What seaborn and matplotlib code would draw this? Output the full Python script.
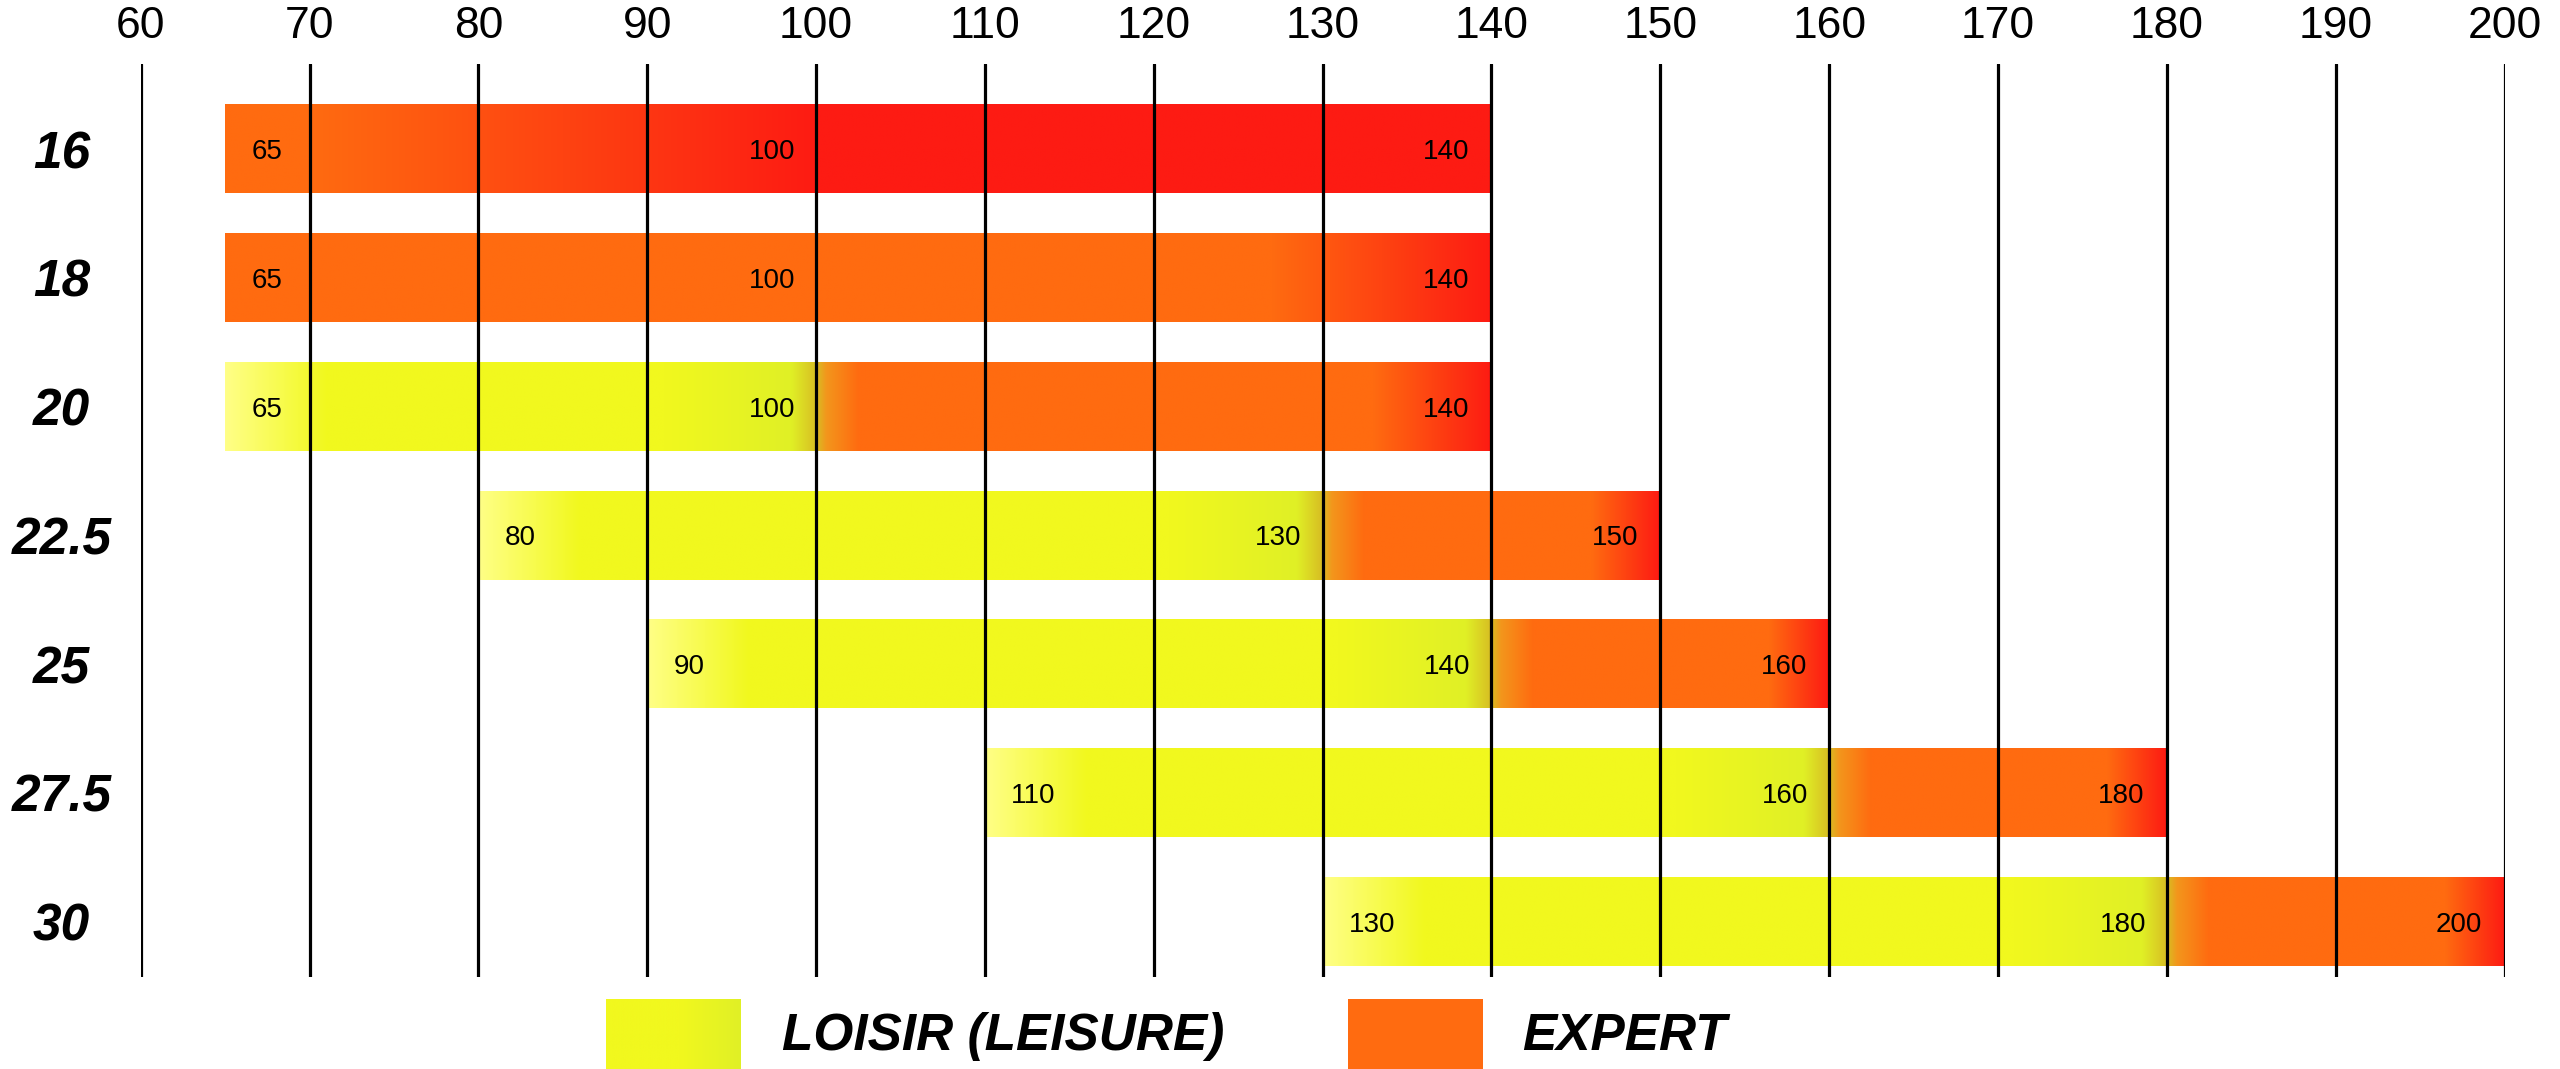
import numpy as np
import pandas as pd
import matplotlib
matplotlib.use("Agg")
import matplotlib.pyplot as plt
import seaborn as sns

# Chart values
sizes = ["16", "18", "20", "22.5", "25", "27.5", "30"]
start_vals = [65, 65, 65, 80, 90, 110, 130]
mid_vals = [100, 100, 100, 130, 140, 160, 180]
end_vals = [140, 140, 140, 150, 160, 180, 200]
leisure_to = [65, 65, 100, 130, 140, 160, 180]   # where leisure turns to expert
red_from = [70, 127, 133, 146, 156.5, 176.5, 196.5]
red_full = [100, 140, 140, 150, 160, 180, 200]
x_ticks = list(range(60, 201, 10))
legend_labels = ["LOISIR (LEISURE)", "EXPERT"]

# Colours
PALE = (255, 255, 135)
YELLOW = (241, 248, 30)
GREENISH = (224, 240, 38)
TAN = (215, 190, 35)
LORANGE = (243, 150, 28)
ORANGE = (255, 107, 16)
RED = (253, 27, 19)

df = pd.DataFrame({"size": sizes, "start": start_vals, "mid": mid_vals,
                   "end": end_vals, "leisure_to": leisure_to,
                   "red_from": red_from, "red_full": red_full})
df["length"] = df["end"] - df["start"]


def ramp(xs, stops):
    px = [p for p, _ in stops]
    out = np.zeros((len(xs), 3))
    for c in range(3):
        out[:, c] = np.interp(xs, px, [col[c] for _, col in stops])
    return out / 255.0


def bar_stops(row):
    stops = []
    if row.leisure_to > row.start:
        m = row.leisure_to
        stops += [(row.start, PALE), (row.start + 6, YELLOW), (m - 9, YELLOW),
                  (m - 1.5, GREENISH), (m, TAN), (m + 0.6, LORANGE), (m + 2.5, ORANGE)]
    else:
        stops += [(row.start, ORANGE)]
    stops += [(row.red_from, ORANGE), (row.red_full, RED)]
    if row.red_full < row.end:
        stops += [(row.end, RED)]
    return stops


sns.set_style("white")
plt.rcParams["font.family"] = ["Liberation Sans", "DejaVu Sans"]
plt.rcParams["text.color"] = "black"
plt.rcParams["xtick.color"] = "black"
plt.rcParams["ytick.color"] = "black"
plt.rcParams["xtick.labelcolor"] = "black"
plt.rcParams["ytick.labelcolor"] = "black"

fig = plt.figure(figsize=(25.6, 10.69), dpi=100)
ax = fig.add_axes([0.05496, 0.0861, 0.9234, 0.854])

sns.barplot(data=df, x="length", y="size", orient="h", order=sizes,
            width=0.69, color="#ff6b10", saturation=1, linewidth=0, ax=ax)

# move bars to their start value and paint the gradients
for patch, row in zip(ax.patches, df.itertuples()):
    patch.set_x(row.start)
    patch.set_width(row.length)
    y0, h = patch.get_y(), patch.get_height()
    xs = np.linspace(row.start, row.end, 900)
    img = ramp(xs, bar_stops(row))[np.newaxis, :, :]
    ax.imshow(img, extent=(row.start, row.end, y0 + h, y0), aspect="auto",
              interpolation="bilinear", zorder=1.5)

# value labels inside bars
for i, row in enumerate(df.itertuples()):
    ax.annotate(f"{row.start:g}", xy=(row.start, i), xytext=(19, 0),
                textcoords="offset points", ha="left", va="center_baseline",
                fontsize=20, color="black", zorder=4)
    ax.annotate(f"{row.mid:g}", xy=(row.mid, i), xytext=(-15, 0),
                textcoords="offset points", ha="right", va="center_baseline",
                fontsize=20, color="black", zorder=4)
    ax.annotate(f"{row.end:g}", xy=(row.end, i), xytext=(-16, 0),
                textcoords="offset points", ha="right", va="center_baseline",
                fontsize=20, color="black", zorder=4)

ax.set_xlim(60, 200)
ax.set_ylim(6.43, -0.66)
ax.set_xticks(x_ticks)
ax.set_xticklabels([str(t) for t in x_ticks])
ax.grid(axis="x", color="black", linewidth=2.3)
ax.grid(axis="y", visible=False)
ax.set_axisbelow(False)
for sp in ax.spines.values():
    sp.set_visible(False)

ax.xaxis.tick_top()
ax.tick_params(axis="x", length=0, labelsize=32, pad=12, labelcolor="black",
               top=True, labeltop=True, bottom=False, labelbottom=False)
ax.tick_params(axis="y", length=0, pad=57, labelcolor="black")
ax.set_yticks(range(len(sizes)))
ax.set_yticklabels(sizes, fontsize=37, fontweight="bold", fontstyle="italic")
for lbl in ax.get_yticklabels():
    lbl.set_horizontalalignment("center")
ax.set_xlabel("")
ax.set_ylabel("")

# legend swatches and labels
swatch_w, swatch_h = 135 / 2560, 70 / 1069
lax1 = fig.add_axes([606 / 2560, 0, swatch_w, swatch_h])
lax1.imshow(ramp(np.linspace(0, 1, 300), [(0, YELLOW), (0.55, YELLOW), (1, GREENISH)])[np.newaxis],
            aspect="auto", extent=(0, 1, 0, 1))
lax1.axis("off")
lax2 = fig.add_axes([1348 / 2560, 0, swatch_w, swatch_h])
lax2.imshow(ramp(np.linspace(0, 1, 10), [(0, ORANGE), (1, ORANGE)])[np.newaxis],
            aspect="auto", extent=(0, 1, 0, 1))
lax2.axis("off")

text_y = 1 - 1031 / 1069
fig.text(782 / 2560, text_y, legend_labels[0], fontsize=37, fontweight="bold",
         fontstyle="italic", va="center_baseline", color="black")
fig.text(1522 / 2560, text_y, legend_labels[1], fontsize=37, fontweight="bold",
         fontstyle="italic", va="center_baseline", color="black")

fig.savefig("out.png", dpi=100)
